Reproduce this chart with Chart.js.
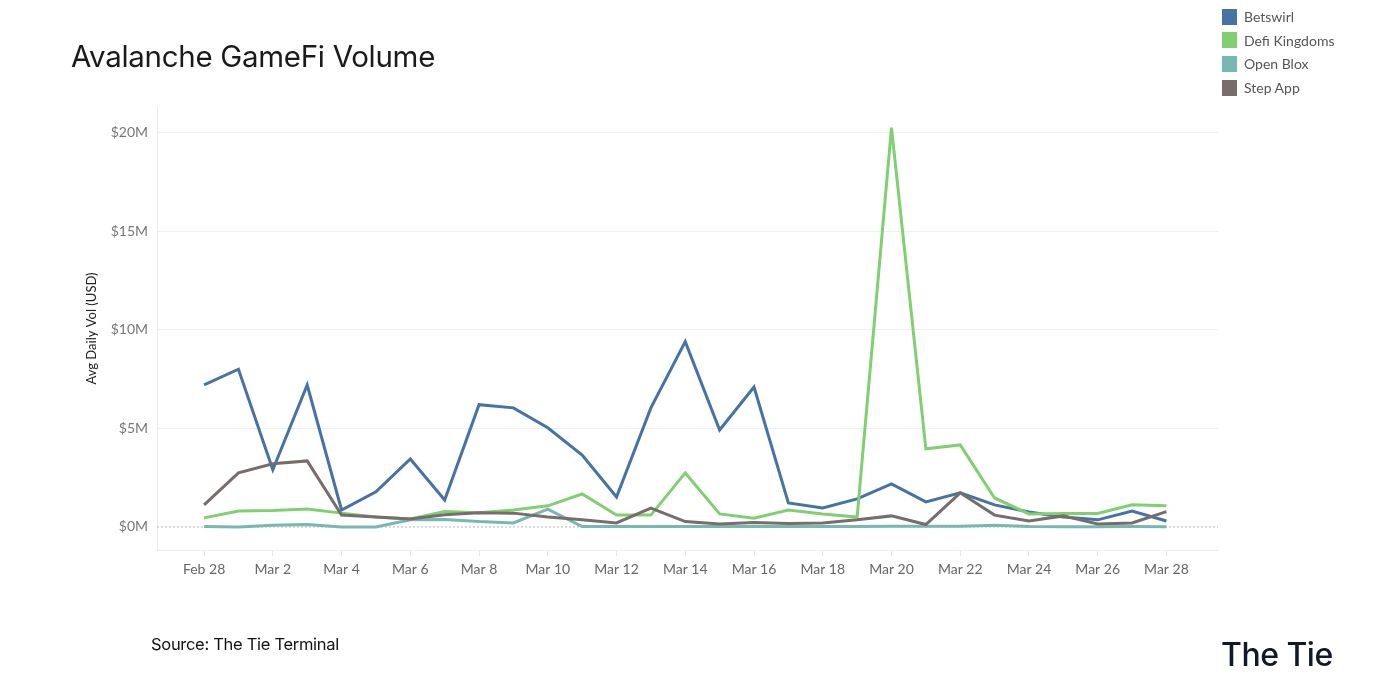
<!DOCTYPE html>
<html lang="en">
<head>
    <meta charset="UTF-8">
    <title>Avalanche GameFi Volume</title>
    <script src="https://cdn.jsdelivr.net/npm/chart.js"></script>
    <style>
        body {
            margin: 0;
            background: #fff;
            width: 1400px;
            height: 700px;
            position: relative;
            overflow: hidden;
            font-family: 'Lato', sans-serif;
        }
        .title {
            position: absolute;
            left: 71px;
            top: 38px;
            font-family: 'Inter', sans-serif;
            font-size: 29.5px;
            color: #1a1a1a;
            letter-spacing: -0.3px;
        }
        .source {
            position: absolute;
            left: 151px;
            top: 634px;
            font-family: 'Inter', sans-serif;
            font-size: 16.5px;
            color: #111;
            letter-spacing: -0.3px;
        }
        .logo {
            position: absolute;
            left: 1221px;
            top: 635px;
            font-family: 'Inter', sans-serif;
            font-size: 32px;
            font-weight: 500;
            color: #111827;
            letter-spacing: -0.5px;
        }
        .legend {
            position: absolute;
            left: 1222px;
            top: 5px;
        }
        .legend div {
            height: 23.6px;
            display: flex;
            align-items: center;
            font-size: 14px;
            color: #555;
        }
        .legend span {
            display: inline-block;
            width: 15px;
            height: 16px;
            margin-right: 7px;
        }
        #chart {
            position: absolute;
            left: 0;
            top: 0;
        }
    </style>
</head>
<body>
    <canvas id="chart" width="1400" height="700"></canvas>
    <div class="title">Avalanche GameFi Volume</div>
    <div class="legend" id="legend"></div>
    <div class="source">Source: The Tie Terminal</div>
    <div class="logo">The Tie</div>
    <script>
        // daily points, Feb 28 .. Mar 28
        const dates = ['Feb 28', 'Mar 1', 'Mar 2', 'Mar 3', 'Mar 4', 'Mar 5', 'Mar 6', 'Mar 7', 'Mar 8', 'Mar 9',
            'Mar 10', 'Mar 11', 'Mar 12', 'Mar 13', 'Mar 14', 'Mar 15', 'Mar 16', 'Mar 17', 'Mar 18', 'Mar 19',
            'Mar 20', 'Mar 21', 'Mar 22', 'Mar 23', 'Mar 24', 'Mar 25', 'Mar 26', 'Mar 27', 'Mar 28'];

        // values in $M
        const betswirl = [7.2, 8.0, 2.9, 7.2, 0.86, 1.78, 3.45, 1.37, 6.2, 6.04,
            5.03, 3.65, 1.52, 6.04, 9.4, 4.92, 7.1, 1.22, 0.96, 1.42,
            2.18, 1.27, 1.73, 1.12, 0.76, 0.5, 0.36, 0.81, 0.3];
        const defiKingdoms = [0.46, 0.81, 0.83, 0.91, 0.7, 0.5, 0.4, 0.78, 0.72, 0.86,
            1.07, 1.67, 0.6, 0.6, 2.74, 0.66, 0.44, 0.86, 0.66, 0.5,
            20.25, 3.96, 4.16, 1.47, 0.66, 0.68, 0.68, 1.12, 1.07];
        const openBlox = [0.02, 0.0, 0.08, 0.12, 0.0, 0.0, 0.36, 0.38, 0.27, 0.2,
            0.9, 0.02, 0.02, 0.02, 0.02, 0.02, 0.02, 0.02, 0.02, 0.02,
            0.03, 0.03, 0.03, 0.08, 0.02, 0.01, 0.01, 0.02, 0.01];
        const stepApp = [1.12, 2.74, 3.2, 3.35, 0.6, 0.5, 0.4, 0.62, 0.72, 0.7,
            0.5, 0.36, 0.2, 0.96, 0.27, 0.15, 0.22, 0.17, 0.2, 0.36,
            0.56, 0.12, 1.73, 0.6, 0.3, 0.56, 0.15, 0.2, 0.78];

        const seriesNames = ['Betswirl', 'Defi Kingdoms', 'Open Blox', 'Step App'];
        const seriesColors = ['#4573a5', '#80d072', '#78b8b2', '#776d6b'];
        const seriesValues = [betswirl, defiKingdoms, openBlox, stepApp];
        const yTicks = [0, 5, 10, 15, 20];

        const legend = document.getElementById('legend');
        seriesNames.forEach((name, i) => {
            const row = document.createElement('div');
            row.innerHTML = '<span style="background:' + seriesColors[i] + '"></span>' + name;
            legend.appendChild(row);
        });

        // dotted zero line across the plot
        const zeroLine = {
            id: 'zeroLine',
            beforeDatasetsDraw(chart) {
                const y = chart.scales.y.getPixelForValue(0);
                const ctx = chart.ctx;
                ctx.save();
                ctx.strokeStyle = '#b5b5b5';
                ctx.lineWidth = 1;
                ctx.setLineDash([2, 2]);
                ctx.beginPath();
                ctx.moveTo(chart.chartArea.left, y);
                ctx.lineTo(chart.chartArea.right, y);
                ctx.stroke();
                ctx.restore();
            }
        };

        const datasets = seriesNames.map((name, i) => ({
            label: name,
            data: seriesValues[i].map((v, j) => ({ x: j, y: v })),
            borderColor: seriesColors[i],
            backgroundColor: seriesColors[i],
            borderWidth: 3,
            pointRadius: 0,
            tension: 0,
            fill: false
        }));

        new Chart(document.getElementById('chart'), {
            type: 'line',
            data: { datasets: datasets.slice().reverse() },
            plugins: [zeroLine],
            options: {
                responsive: false,
                animation: false,
                layout: { padding: { left: 80, right: 182, top: 107, bottom: 110 } },
                plugins: {
                    legend: { display: false },
                    tooltip: { enabled: false }
                },
                scales: {
                    x: {
                        type: 'linear',
                        min: -1.37,
                        max: 29.5,
                        afterBuildTicks: axis => {
                            axis.ticks = dates.map((d, i) => ({ value: i })).filter(t => t.value % 2 === 0);
                        },
                        afterFit: axis => { axis.height = 40; },
                        ticks: {
                            callback: v => dates[v],
                            color: '#666',
                            font: { family: 'Lato', size: 14 },
                            padding: 5,
                            maxRotation: 0,
                            autoSkip: false
                        },
                        grid: {
                            drawOnChartArea: false,
                            color: '#e6e6e6',
                            tickLength: 6
                        },
                        border: { color: '#ececec' }
                    },
                    y: {
                        min: -1.17,
                        max: 21.3,
                        afterBuildTicks: axis => {
                            axis.ticks = yTicks.map(v => ({ value: v }));
                        },
                        afterFit: axis => { axis.width = 77; },
                        title: {
                            display: true,
                            text: 'Avg Daily Vol (USD)',
                            color: '#222',
                            font: { family: 'Lato', size: 13 },
                            padding: { top: 4, bottom: 0 }
                        },
                        ticks: {
                            callback: v => '$' + v + 'M',
                            color: '#777',
                            font: { family: 'Lato', size: 14 },
                            padding: 9
                        },
                        grid: {
                            drawTicks: false,
                            color: ctx => ctx.tick && ctx.tick.value === 0 ? 'rgba(0,0,0,0)' : '#efefef'
                        },
                        border: { color: '#ececec' }
                    }
                }
            }
        });
    </script>
</body>
</html>
